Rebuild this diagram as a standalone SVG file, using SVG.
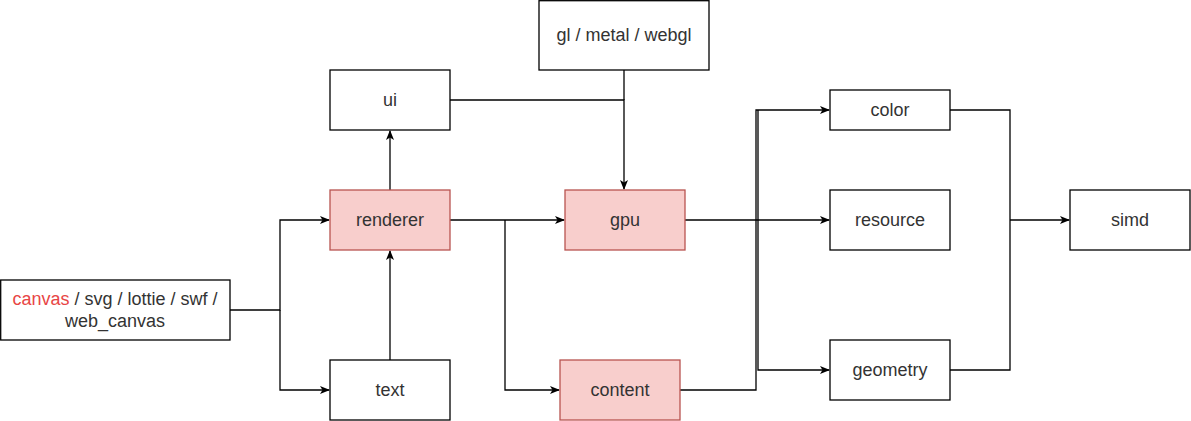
<svg xmlns="http://www.w3.org/2000/svg" width="1191" height="421" viewBox="0 0 1191 421">
<style>
.n{fill:#ffffff;stroke:#000000;stroke-width:1.3}
.h{fill:#f8cecc;stroke:#b85450;stroke-width:1.3}
.t{font-family:"Liberation Sans",Arial,sans-serif;font-size:18px;fill:#333333;text-anchor:middle;dominant-baseline:central}
.c{fill:none;stroke:#000000;stroke-width:1.3}
</style>
<defs>
<marker id="ar" viewBox="0 0 10 10" refX="9" refY="5" markerWidth="10" markerHeight="10" markerUnits="userSpaceOnUse" orient="auto">
<path d="M0,1 L10,5 L0,9 L2.5,5 Z" fill="#000000"/>
</marker>
</defs>
<rect width="1191" height="421" fill="#ffffff"/>
<g id="connectors">
<path class="c" d="M230,310 H280 V220 H329" marker-end="url(#ar)"/>
<path class="c" d="M280,310 V390 H329" marker-end="url(#ar)"/>
<path class="c" d="M390,360 V251" marker-end="url(#ar)"/>
<path class="c" d="M390,190 V131" marker-end="url(#ar)"/>
<path class="c" d="M450,100 H624 V189" marker-end="url(#ar)"/>
<path class="c" d="M624,70 V100"/>
<path class="c" d="M450,220 H564" marker-end="url(#ar)"/>
<path class="c" d="M505,220 V390 H559" marker-end="url(#ar)"/>
<path class="c" d="M685,220 H829" marker-end="url(#ar)"/>
<path class="c" d="M680,390 H756 V110 H829" marker-end="url(#ar)"/>
<path class="c" d="M758,110 V370 H829" marker-end="url(#ar)"/>
<path class="c" d="M950,110 H1010 V370 H950"/>
<path class="c" d="M1010,220 H1069" marker-end="url(#ar)"/>
</g>
<g id="source">
<rect class="n" x="0.7" y="280" width="229.3" height="60"/>
<text class="t" x="115" y="299"><tspan fill="#e84545">canvas</tspan> / svg / lottie / swf /</text>
<text class="t" x="115" y="321">web_canvas</text>
</g>
<g id="ui">
<rect class="n" x="330" y="70" width="120" height="60"/>
<text class="t" x="390" y="100">ui</text>
</g>
<g id="gl">
<rect class="n" x="539" y="0.7" width="170" height="69.3"/>
<text class="t" x="624" y="35">gl / metal / webgl</text>
</g>
<g id="renderer">
<rect class="h" x="330" y="190" width="120" height="60"/>
<text class="t" x="390" y="220">renderer</text>
</g>
<g id="gpu">
<rect class="h" x="565" y="190" width="120" height="60"/>
<text class="t" x="625" y="220">gpu</text>
</g>
<g id="text">
<rect class="n" x="330" y="360" width="120" height="60"/>
<text class="t" x="390" y="390">text</text>
</g>
<g id="content">
<rect class="h" x="560" y="360" width="120" height="60"/>
<text class="t" x="620" y="390">content</text>
</g>
<g id="color">
<rect class="n" x="830" y="90" width="120" height="40"/>
<text class="t" x="890" y="110">color</text>
</g>
<g id="resource">
<rect class="n" x="830" y="190" width="120" height="60"/>
<text class="t" x="890" y="220">resource</text>
</g>
<g id="geometry">
<rect class="n" x="830" y="340" width="120" height="60"/>
<text class="t" x="890" y="370">geometry</text>
</g>
<g id="simd">
<rect class="n" x="1070" y="190" width="120" height="60"/>
<text class="t" x="1130" y="220">simd</text>
</g>
</svg>
